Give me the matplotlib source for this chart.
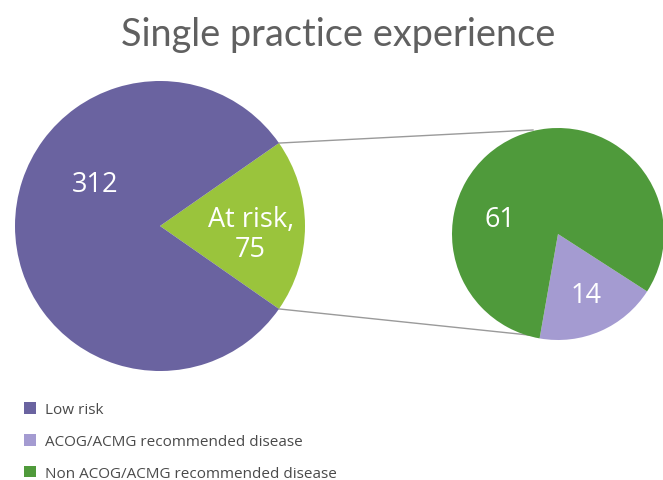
import numpy as np
import matplotlib.pyplot as plt
from matplotlib.patches import Patch

# Data
main_labels = ["Low risk", "At risk"]
main_values = [312, 75]
sub_labels = ["ACOG/ACMG recommended disease", "Non ACOG/ACMG recommended disease"]
sub_values = [14, 61]
legend_labels = ["Low risk", "ACOG/ACMG recommended disease", "Non ACOG/ACMG recommended disease"]
title = "Single practice experience"

c_low = "#6a63a0"
c_risk = "#9ac43c"
c_acog = "#a49bd1"
c_non = "#4f9a3b"

W, H = 663, 481
fig = plt.figure(figsize=(W / 100, H / 100), dpi=100)
ax = fig.add_axes([0, 0, 1, 1])
ax.set_xlim(0, W)
ax.set_ylim(0, H)
ax.set_aspect("equal")
ax.axis("off")

font = ["Open Sans", "DejaVu Sans"]
tfont = ["Lato", "DejaVu Sans"]

# Big pie
big_c = (160, H - 227)
big_r = 145
risk_frac = main_values[1] / sum(main_values)
start_big = -risk_frac * 360 / 2
ax.pie([main_values[1], main_values[0]], colors=[c_risk, c_low], center=big_c,
       radius=big_r, startangle=start_big, counterclock=True,
       wedgeprops=dict(linewidth=0))

# Small pie
small_c = (558, H - 235)
small_r = 106
ax.pie([sub_values[0], sub_values[1]], colors=[c_acog, c_non], center=small_c,
       radius=small_r, startangle=-100, counterclock=True,
       wedgeprops=dict(linewidth=0))
ax.set_xlim(0, W)
ax.set_ylim(0, H)

# Connecting lines
t1 = np.deg2rad(-start_big)
t2 = np.deg2rad(start_big)
p_top = (big_c[0] + big_r * np.cos(t1), big_c[1] + big_r * np.sin(t1))
p_bot = (big_c[0] + big_r * np.cos(t2), big_c[1] + big_r * np.sin(t2))
ax.plot([p_top[0], 533], [p_top[1], H - 131], color="#9a9a9a", lw=1, zorder=0)
ax.plot([p_bot[0], 538], [p_bot[1], H - 337], color="#9a9a9a", lw=1, zorder=0)

# Labels
lbl = dict(color="white", fontsize=19.5, ha="center", va="center", family=font)
ax.text(95, H - 185, f"{main_values[0]}", **lbl)
ax.text(251, H - 220, "At risk,", **lbl)
ax.text(250, H - 250, f"{main_values[1]}", **lbl)
ax.text(500, H - 220, f"{sub_values[1]}", **lbl)
ax.text(586, H - 296, f"{sub_values[0]}", **lbl)

# Title
ax.text(338, H - 35, title, fontsize=27.3, color="#606060", ha="center",
        va="center", family=tfont)

# Legend
handles = [Patch(facecolor=c, edgecolor="none") for c in (c_low, c_acog, c_non)]
leg = fig.legend(handles, legend_labels, loc="upper left",
                 bbox_to_anchor=(12 / W, 1 - 391 / H), frameon=False,
                 handlelength=0.8, handleheight=0.8,
                 handletextpad=0.55, labelspacing=1.08,
                 borderpad=0.3,
                 prop=dict(family=font, size=11))
for t in leg.get_texts():
    t.set_color("#4a4a4a")

fig.savefig("out.png", dpi=100)
